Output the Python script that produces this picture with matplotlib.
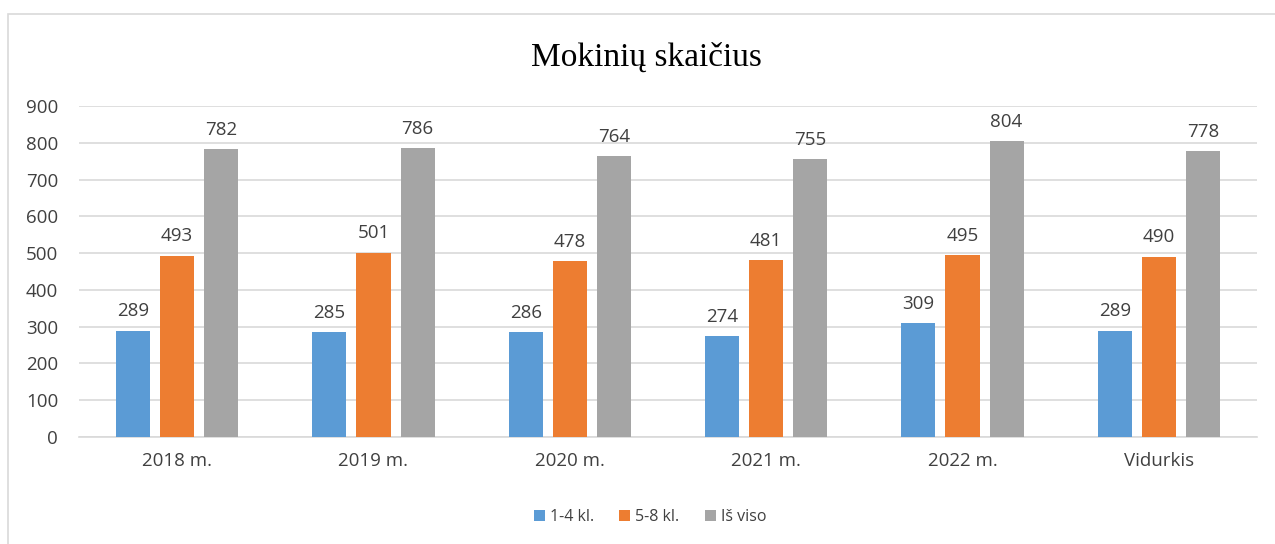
import matplotlib
matplotlib.use("Agg")
import matplotlib.pyplot as plt
from matplotlib.patches import Rectangle
import numpy as np

categories = ["2018 m.", "2019 m.", "2020 m.", "2021 m.", "2022 m.", "Vidurkis"]
series_names = ["1-4 kl.", "5-8 kl.", "Iš viso"]
s1 = [289, 285, 286, 274, 309, 289]
s2 = [493, 501, 478, 481, 495, 490]
s3 = [782, 786, 764, 755, 804, 778]
colors = ["#5B9BD5", "#ED7D31", "#A5A5A5"]
title = "Mokinių skaičius"

W, H = 1275, 544
fig = plt.figure(figsize=(W/100, H/100), dpi=100)
fig.patches.append(Rectangle((8/W, -0.1), 1.2, 1 - 14/H + 0.1, transform=fig.transFigure,
                             fill=False, edgecolor="#D9D9D9", linewidth=1.2))

left, right, top, bottom = 79, 1257, 106, 437
ax = fig.add_axes([left/W, 1 - bottom/H, (right-left)/W, (bottom-top)/H])

font = "Open Sans"
x = np.arange(len(categories))
bw = 34/196.3
step = 44/196.3
for i, (vals, name, c) in enumerate(zip([s1, s2, s3], series_names, colors)):
    bars = ax.bar(x + (i-1)*step, vals, bw, color=c, label=name, zorder=3)
    for b, v in zip(bars, vals):
        ax.text(b.get_x() + b.get_width()/2, v + 28, str(v), ha="center", va="bottom",
                fontsize=13.5, color="#404040", family=font)

ax.set_xlim(-0.5, len(categories)-0.5)
ax.set_ylim(0, 900)
ax.set_yticks(range(0, 901, 100))
ax.yaxis.grid(True, color="#D9D9D9", linewidth=1.2, zorder=0)
ax.set_axisbelow(True)
for s in ["top", "right", "left"]:
    ax.spines[s].set_visible(False)
ax.spines["bottom"].set_color("#D9D9D9")
ax.spines["bottom"].set_linewidth(1.2)
ax.tick_params(length=0, labelsize=13.5, labelcolor="#404040")
ax.tick_params(axis="y", pad=15)
ax.tick_params(axis="x", pad=11)
ax.set_xticks(x)
ax.set_xticklabels(categories, family=font)
for t in ax.get_yticklabels():
    t.set_family(font)

fig.text(646/W, 1 - 57/H, title, ha="center", va="center", fontsize=24,
         family="Liberation Serif", color="#000000")

leg = fig.legend(loc="center", bbox_to_anchor=(650/W, 1 - 517/H), ncol=3, frameon=False,
                 prop={"family": font, "size": 11.5}, handlelength=0.7, handleheight=0.7,
                 columnspacing=1.6, handletextpad=0.3)
for t in leg.get_texts():
    t.set_color("#404040")

fig.savefig("out.png", dpi=100)
